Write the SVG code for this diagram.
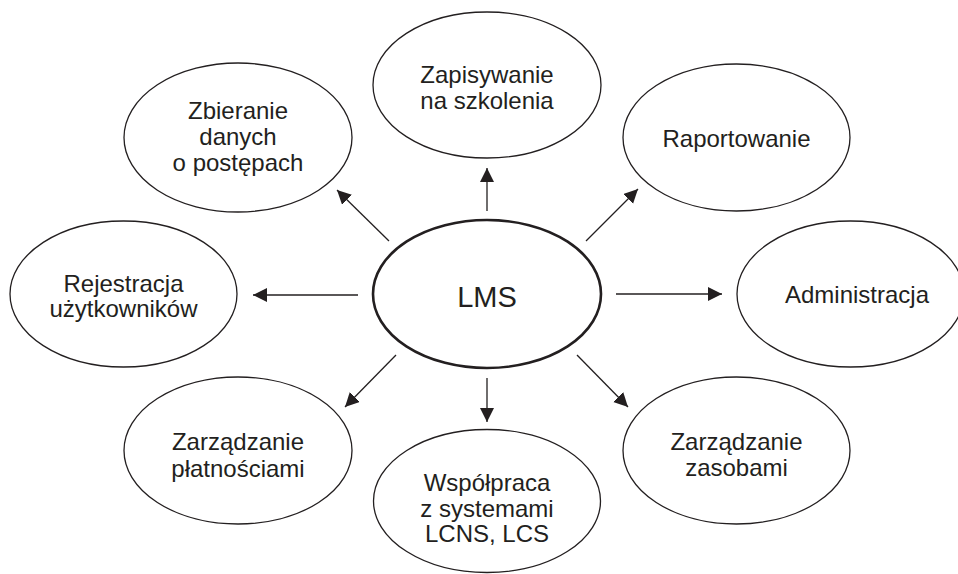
<svg xmlns="http://www.w3.org/2000/svg" width="958" height="574" viewBox="0 0 958 574">
  <style>
    .node ellipse { fill: #ffffff; stroke: #231f20; stroke-width: 1.3; }
    .hub ellipse { fill: #ffffff; stroke: #231f20; stroke-width: 2.6; }
    text { font-family: "Liberation Sans", Arial, sans-serif; font-size: 24px; fill: #231f20; text-anchor: middle; }
    .hub text { font-size: 29px; }
    .edge { stroke: #231f20; stroke-width: 1.3; fill: none; marker-end: url(#arrow); }
  </style>
  <defs>
    <marker id="arrow" markerUnits="userSpaceOnUse" markerWidth="15" markerHeight="15" refX="14" refY="7" orient="auto">
      <path d="M0,0 L14,7 L0,14 Z" fill="#231f20"/>
    </marker>
  </defs>
  <rect width="958" height="574" fill="#ffffff"/>

  <!-- connectors from the hub -->
  <g id="connectors">
    <line class="edge" x1="487" y1="211" x2="487" y2="168"/>
    <line class="edge" x1="487" y1="378" x2="487" y2="422"/>
    <line class="edge" x1="358" y1="295" x2="253" y2="295"/>
    <line class="edge" x1="616" y1="294" x2="722" y2="294"/>
    <line class="edge" x1="389" y1="241" x2="337" y2="190"/>
    <line class="edge" x1="586" y1="241" x2="638" y2="189"/>
    <line class="edge" x1="396" y1="355" x2="345" y2="407"/>
    <line class="edge" x1="577" y1="355" x2="628" y2="407"/>
  </g>

  <g id="lms" class="hub">
    <ellipse cx="487" cy="294" rx="114" ry="74"/>
    <text x="487" y="307">LMS</text>
  </g>

  <g id="zapisywanie" class="node">
    <ellipse cx="487" cy="85" rx="114" ry="73"/>
    <text x="487" y="83">Zapisywanie</text>
    <text x="487" y="109">na szkolenia</text>
  </g>

  <g id="zbieranie" class="node">
    <ellipse cx="238" cy="137.5" rx="114" ry="74.5"/>
    <text x="238" y="119">Zbieranie</text>
    <text x="238" y="145">danych</text>
    <text x="238" y="171">o postępach</text>
  </g>

  <g id="raportowanie" class="node">
    <ellipse cx="736.5" cy="137.5" rx="113.5" ry="73.5"/>
    <text x="736.5" y="147">Raportowanie</text>
  </g>

  <g id="rejestracja" class="node">
    <ellipse cx="123.5" cy="294" rx="113.5" ry="73"/>
    <text x="123.5" y="292">Rejestracja</text>
    <text x="123.5" y="317">użytkowników</text>
  </g>

  <g id="administracja" class="node">
    <ellipse cx="850.5" cy="294" rx="113.5" ry="73"/>
    <text x="857" y="303">Administracja</text>
  </g>

  <g id="platnosci" class="node">
    <ellipse cx="238" cy="450.5" rx="114" ry="73.5"/>
    <text x="238" y="450">Zarządzanie</text>
    <text x="238" y="477">płatnościami</text>
  </g>

  <g id="wspolpraca" class="node">
    <ellipse cx="487" cy="501" rx="113.5" ry="71.5"/>
    <text x="487" y="491">Współpraca</text>
    <text x="487" y="517">z systemami</text>
    <text x="487" y="542">LCNS, LCS</text>
  </g>

  <g id="zasoby" class="node">
    <ellipse cx="736.5" cy="450.5" rx="113.5" ry="73.5"/>
    <text x="736.5" y="450">Zarządzanie</text>
    <text x="736.5" y="476">zasobami</text>
  </g>
</svg>
